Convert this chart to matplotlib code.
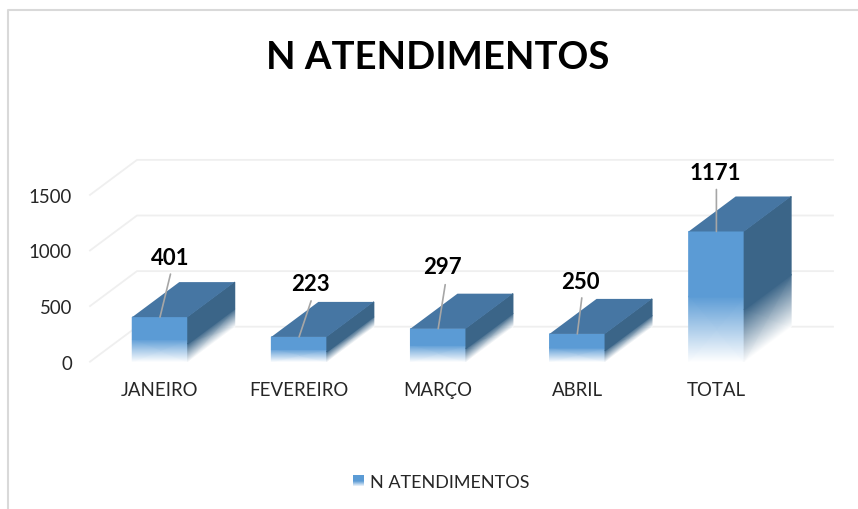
import numpy as np
import matplotlib
matplotlib.use('Agg')
import matplotlib.pyplot as plt
from matplotlib.colors import LinearSegmentedColormap
from matplotlib.legend_handler import HandlerBase
from matplotlib.lines import Line2D
from matplotlib.patches import Polygon, Rectangle

plt.rcParams['font.family'] = ['Lato', 'DejaVu Sans']

# Data
categories = ['JANEIRO', 'FEVEREIRO', 'MARÇO', 'ABRIL', 'TOTAL']
atendimentos = [401, 223, 297, 250, 1171]
y_ticks = [0, 500, 1000, 1500]
series_name = 'N ATENDIMENTOS'

# Layout, in pixels of the 858x510 picture
W, H = 858, 510
AX_LEFT, AX_RIGHT, AX_TOP, AX_BOTTOM = 90, 833, 160, 362.7
CAT_PX = 139.1
VAL_PX = 55.6 / 500
DEPTH_X_PX, DEPTH_Y_PX = 47, 35
BAR_PX = 55.5
FIRST_CENTER = 160

# Leader end and label centre, relative to the middle of the bar's front top edge
leader_ends = [(10.5, 43), (12, 36), (7, 44), (4.5, 36), (0, 42)]
label_offsets = [(10, 60), (11, 53), (4, 62), (3.5, 52), (-1.5, 59)]

FRONT = '#5b9bd5'
SIDE = '#3b6588'
TOP = '#4676a3'
GRID = '#efefef'
TEXT = '#262626'

depth_x = DEPTH_X_PX / CAT_PX
depth_y = DEPTH_Y_PX / VAL_PX
half = BAR_PX / CAT_PX / 2

fig = plt.figure(figsize=(W / 100, H / 100), dpi=100, facecolor='white')
ax = fig.add_axes([AX_LEFT / W, 1 - AX_BOTTOM / H,
                   (AX_RIGHT - AX_LEFT) / W, (AX_BOTTOM - AX_TOP) / H])
ax.set_xlim((AX_LEFT - FIRST_CENTER) / CAT_PX, (AX_RIGHT - FIRST_CENTER) / CAT_PX)
ax.set_ylim(0, (AX_BOTTOM - AX_TOP) / VAL_PX)
ax.patch.set_alpha(0)
for s in ax.spines.values():
    s.set_visible(False)

# Outer chart border (left and top only are visible in the screenshot)
fig.add_artist(Line2D([8 / W, 8 / W, 1], [0, 1 - 11 / H, 1 - 11 / H],
                      color='#d9d9d9', lw=1.5))

# Walls: floor/side diagonals then back wall gridlines
x0, x1 = ax.get_xlim()
for t in y_ticks:
    ax.plot([x0, x0 + depth_x, x1], [t, t + depth_y, t + depth_y],
            color=GRID, lw=1.3, zorder=1, clip_on=False)

ax.set_xticks(range(len(categories)), categories)
ax.set_yticks(y_ticks)
ax.tick_params(axis='x', length=0, pad=14, labelsize=13.4, labelcolor=TEXT)
ax.tick_params(axis='y', length=0, pad=13, labelsize=13.4, labelcolor=TEXT)


def fade_cmap(color):
    return LinearSegmentedColormap.from_list('fade', ['white', color])


# Bars: lower part of the front and side faces fades to white
levels = np.array([[0.0, 0.0], [1.0, 1.0], [1.0, 1.0]])
for i, v in enumerate(atendimentos):
    heights = np.array([0, v * 0.5, v])
    xs = np.array([i - half, i + half])
    X, Y = np.meshgrid(xs, heights)
    ax.pcolormesh(X, Y, levels, shading='gouraud', cmap=fade_cmap(FRONT),
                  vmin=0, vmax=1, zorder=3)

    heights = np.array([0, v * 0.4, v])
    sx = np.array([i + half, i + half + depth_x])
    X = np.tile(sx, (3, 1))
    Y = np.column_stack([heights, heights + depth_y])
    ax.pcolormesh(X, Y, levels, shading='gouraud', cmap=fade_cmap(SIDE),
                  vmin=0, vmax=1, zorder=3)

    ax.add_patch(Polygon([(i - half, v), (i + half, v),
                          (i + half + depth_x, v + depth_y),
                          (i - half + depth_x, v + depth_y)],
                         closed=True, fc=TOP, ec='none', zorder=3))

    # Leader line and data label
    ax.annotate('', xy=(i, v), xytext=leader_ends[i], textcoords='offset pixels',
                arrowprops=dict(arrowstyle='-', color='#a6a6a6', lw=1.2,
                                shrinkA=0, shrinkB=0), zorder=4)
    ax.annotate(str(v), xy=(i, v), xytext=label_offsets[i], textcoords='offset pixels',
                ha='center', va='center', fontsize=16, fontweight='bold',
                color='black', zorder=5)

fig.text(437.5 / W, 1 - 58 / H, series_name, ha='center', va='center',
         fontsize=27.5, fontweight='bold', color='black')


# Legend key with the same fade as the bars
class FadeHandler(HandlerBase):
    def create_artists(self, legend, orig, xd, yd, width, height, fontsize, trans):
        parts = []
        n = 11
        for k in range(n):
            a = min(1, 2 * (n - k) / n)
            parts.append(Rectangle((-xd, -yd + height * (1 - (k + 1) / n)), width, height / n,
                                   fc=FRONT, ec='none', alpha=a, transform=trans))
        return parts


fig.legend([Rectangle((0, 0), 1, 1)], [series_name],
           handler_map={Rectangle: FadeHandler()},
           loc='center', bbox_to_anchor=(441 / W, 1 - 483 / H), frameon=False,
           fontsize=13, labelcolor=TEXT, handlelength=0.61, handleheight=0.61,
           handletextpad=0.33, borderpad=0)

fig.savefig('out.png', dpi=100)
